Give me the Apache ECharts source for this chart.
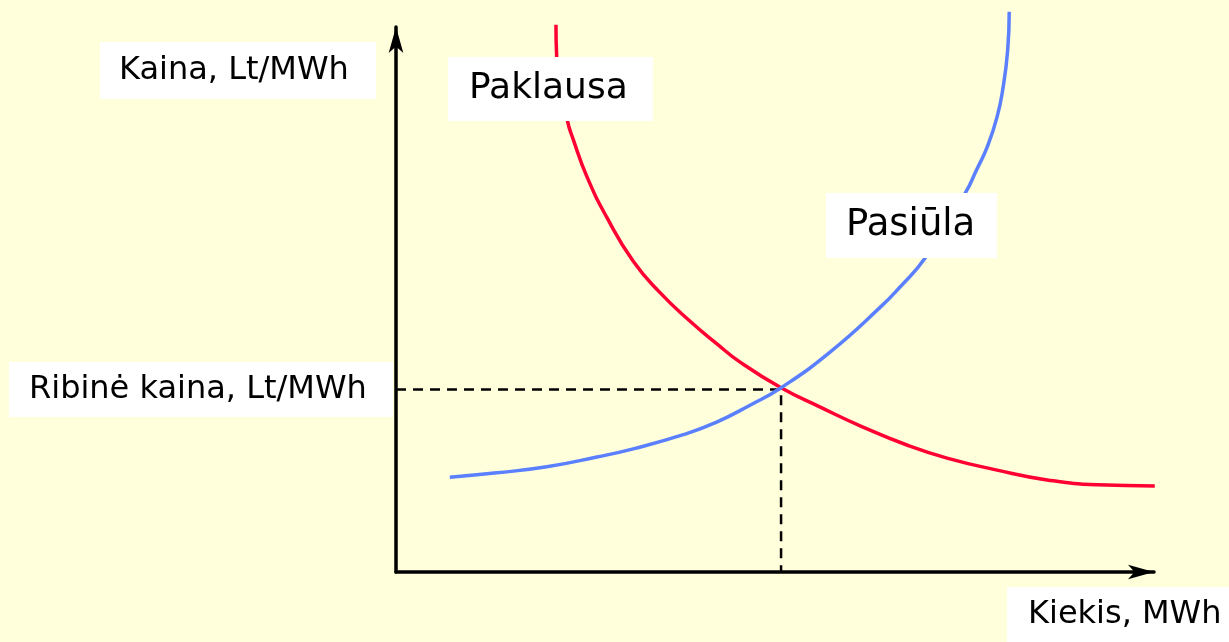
<!DOCTYPE html>
<html>
<head>
<meta charset="utf-8">
<script src="https://cdn.jsdelivr.net/npm/echarts@6/dist/echarts.min.js"></script>
<style>
    html, body { margin: 0; padding: 0; background: #ffffdc; }
    #chart { width: 1229px; height: 642px; }
</style>
</head>
<body>
<div id="chart"></div>
<script>
// schematic units: quantity 0..100, price 0..100
const demandPoints = [
    [21.1, 100.4], [21.2, 94.5], [22.6, 82.9], [23.4, 79.3], [25.2, 72.5],
    [27.8, 65.1], [31.3, 57.0], [34.8, 51.3], [38.8, 46.0], [42.3, 41.9],
    [45.4, 38.5], [50.8, 33.8], [55.9, 30.3], [61.6, 26.6], [67.4, 23.3],
    [72.7, 20.9], [79.3, 18.7], [85.9, 16.9], [92.5, 16.0], [100.1, 15.8],
];

const supplyPoints = [
    [7.1, 17.4], [13.3, 18.2], [19.9, 19.3], [26.5, 21.1], [31.3, 22.6],
    [37.9, 25.2], [42.3, 27.5], [46.7, 30.6], [50.8, 33.8], [57.3, 40.4],
    [63.9, 48.6], [66.5, 52.3], [69.8, 57.6], [75.1, 69.5], [76.6, 73.8],
    [78.0, 78.0], [79.3, 83.5], [80.1, 89.0], [80.7, 95.8], [80.9, 102.8],
];

const equilibrium = [50.8, 33.5];

const labelTexts = {
    yAxis: "Kaina, Lt/MWh",
    xAxis: "Kiekis, MWh",
    price: "Ribinė kaina, Lt/MWh",
    demand: "Paklausa",
    supply: "Pasiūla",
};

const FONT = "DejaVu Sans";

function labelBox(x, y, w, h, text, size, textX) {
    return {
        type: "group",
        z: 100,
        children: [
            {
                type: "rect",
                shape: { x: x, y: y, width: w, height: h },
                style: { fill: "#ffffff" },
                z: 100,
            },
            {
                type: "text",
                x: textX,
                y: y + h / 2,
                z: 101,
                style: {
                    text: text,
                    fill: "#000000",
                    font: `${size}px "${FONT}"`,
                    align: "left",
                    verticalAlign: "middle",
                },
            },
        ],
    };
}

const axisLine = {
    show: true,
    symbol: ["none", "arrow"],
    symbolSize: [11, 26],
    lineStyle: { color: "#000000", width: 3.5 },
};

const chart = echarts.init(document.getElementById("chart"));
chart.setOption({
    backgroundColor: "#ffffdc",
    animation: false,
    grid: { left: 396, right: 75, top: 27, bottom: 70 },
    xAxis: {
        type: "value",
        min: 0,
        max: 100,
        axisLine: axisLine,
        axisTick: { show: false },
        axisLabel: { show: false },
        splitLine: { show: false },
    },
    yAxis: {
        type: "value",
        min: 0,
        max: 100,
        axisLine: axisLine,
        axisTick: { show: false },
        axisLabel: { show: false },
        splitLine: { show: false },
    },
    series: [
        {
            name: "guide",
            type: "line",
            data: [[0, equilibrium[1]], equilibrium, [equilibrium[0], 0]],
            symbol: "none",
            lineStyle: { color: "#000000", width: 2.5, type: [10, 7] },
            z: 1,
        },
        {
            name: labelTexts.demand,
            type: "line",
            data: demandPoints,
            smooth: 0.5,
            clip: false,
            symbol: "none",
            lineStyle: { color: "#ff0033", width: 3.5 },
        },
        {
            name: labelTexts.supply,
            type: "line",
            data: supplyPoints,
            smooth: 0.5,
            clip: false,
            symbol: "none",
            lineStyle: { color: "#5a80ff", width: 3.5 },
        },
    ],
    graphic: [
        labelBox(100, 42, 276, 57, labelTexts.yAxis, 32, 119),
        labelBox(448, 57, 205, 64, labelTexts.demand, 36, 469),
        labelBox(826, 193, 171, 65, labelTexts.supply, 37, 846),
        labelBox(9, 362, 384, 55, labelTexts.price, 32, 29),
        labelBox(1007, 587, 222, 55, labelTexts.xAxis, 32, 1028),
    ],
});
</script>
</body>
</html>
